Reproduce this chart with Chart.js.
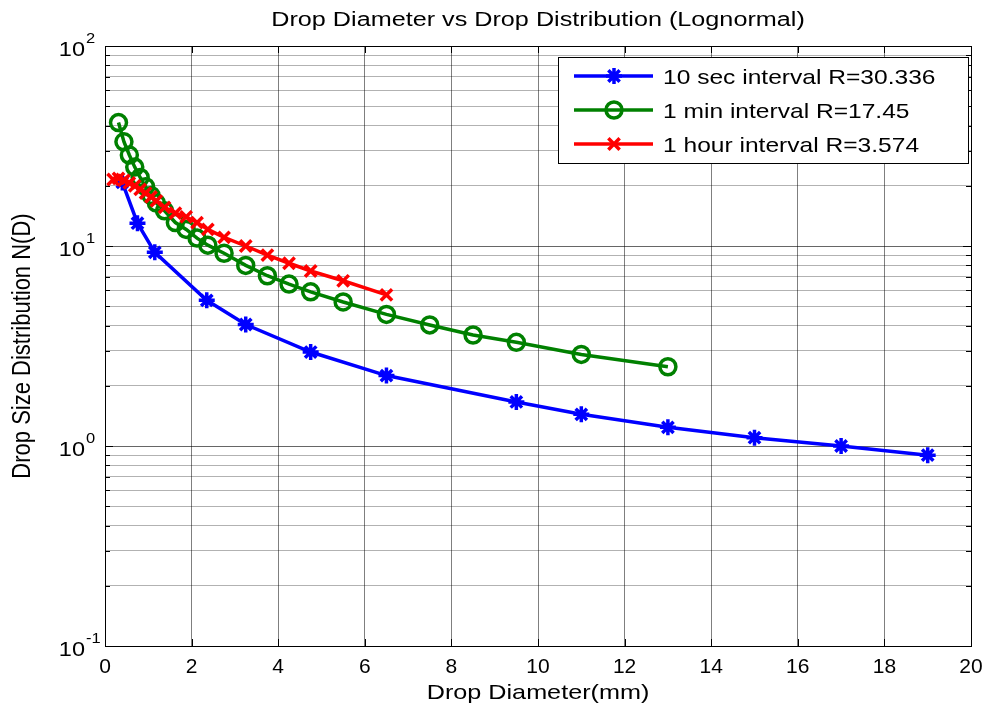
<!DOCTYPE html>
<html>
<head>
<meta charset="utf-8">
<title>Drop Diameter vs Drop Distribution</title>
<script src="https://cdn.jsdelivr.net/npm/chart.js@4.4.1/dist/chart.umd.min.js"></script>
<style>
  html, body { margin: 0; padding: 0; background: #ffffff; }
  #wrap { width: 994px; height: 711px; position: relative; }
</style>
</head>
<body>
<div id="wrap"><canvas id="dsd" width="994" height="711"></canvas></div>
<script>
// Drop diameter (mm) and lognormal drop size distribution N(D) per averaging interval
const sec10Diameter = [0.4, 0.75, 1.15, 2.35, 3.25, 4.75, 6.5, 9.5, 11, 13, 15, 17, 19];
const sec10N        = [20.8, 13.0, 9.3, 5.35, 4.05, 2.95, 2.25, 1.66, 1.44, 1.24, 1.1, 1.0, 0.9];

const min1Diameter = [0.312, 0.437, 0.562, 0.687, 0.812, 0.937, 1.062, 1.187, 1.375, 1.625, 1.875, 2.125, 2.375,
                      2.75, 3.25, 3.75, 4.25, 4.75, 5.5, 6.5, 7.5, 8.5, 9.5, 11, 13];
const min1N        = [41.4, 33.2, 28.5, 24.8, 22.0, 19.8, 17.9, 16.4, 15.0, 13.1, 12.1, 10.95, 10.1,
                      9.2, 8.0, 7.1, 6.45, 5.9, 5.25, 4.55, 4.03, 3.59, 3.30, 2.87, 2.49];

const hour1Diameter = [0.187, 0.312, 0.437, 0.562, 0.687, 0.812, 0.937, 1.062, 1.187, 1.375, 1.625, 1.875,
                       2.125, 2.375, 2.75, 3.25, 3.75, 4.25, 4.75, 5.5, 6.5];
const hour1N        = [21.5, 21.8, 21.3, 20.7, 20.0, 19.2, 18.4, 17.6, 16.8, 15.6, 14.6, 14.0,
                       13.1, 12.1, 11.05, 10.0, 9.0, 8.2, 7.5, 6.7, 5.7];

const seriesLabels = ['10 sec interval R=30.336', '1 min interval R=17.45', '1 hour interval R=3.574'];

// axis ticks
const xTickValues = [0, 2, 4, 6, 8, 10, 12, 14, 16, 18, 20];
const yDecades    = [0.1, 1, 10, 100];
const yExponents  = ['-1', '0', '1', '2'];

const chartTitle = 'Drop Diameter vs Drop Distribution (Lognormal)';
const xTitle = 'Drop Diameter(mm)';
const yTitle = 'Drop Size Distribution N(D)';

const FONT = '"Liberation Sans", Arial, Helvetica, sans-serif';
const STRETCH = 1.2;

function toPoints(xs, ys) { return xs.map((x, i) => ({ x: x, y: ys[i] })); }

// every log-scale grid value between the decades (1..9 x 10^k)
function logGridValues() {
  const out = [];
  for (let d = 0; d < yDecades.length - 1; d++) {
    for (let k = 1; k < 10; k++) out.push(+(yDecades[d] * k).toPrecision(3));
  }
  out.push(yDecades[yDecades.length - 1]);
  return out;
}
function isDecade(v) {
  const l = Math.log10(v);
  return Math.abs(l - Math.round(l)) < 1e-9;
}

function stretchedText(ctx, text, x, y, align, sx) {
  ctx.save();
  ctx.translate(x, y);
  ctx.scale(sx, 1);
  ctx.textAlign = align;
  ctx.fillText(text, 0, 0);
  ctx.restore();
}

// box, inward ticks, tick labels, titles and legend in MATLAB style
const axesDecor = {
  id: 'axesDecor',
  afterDatasetsDraw(chart) {
    const ctx = chart.ctx;
    const a = chart.chartArea;
    const xs = chart.scales.x, ys = chart.scales.y;
    ctx.save();

    // frame
    ctx.strokeStyle = '#000';
    ctx.lineWidth = 1;
    ctx.strokeRect(Math.round(a.left) + 0.5, Math.round(a.top) + 0.5,
                   Math.round(a.right - a.left), Math.round(a.bottom - a.top));

    // x ticks (bottom and top, pointing inward)
    ctx.beginPath();
    xs.ticks.forEach(t => {
      const px = Math.round(xs.getPixelForValue(t.value)) + 0.5;
      ctx.moveTo(px, a.bottom); ctx.lineTo(px, a.bottom - 7);
      ctx.moveTo(px, a.top);    ctx.lineTo(px, a.top + 7);
    });
    // y ticks (left and right)
    ys.ticks.forEach(t => {
      const py = Math.round(ys.getPixelForValue(t.value)) + 0.5;
      const len = isDecade(t.value) ? 8 : 5;
      ctx.moveTo(a.left, py);  ctx.lineTo(a.left + len, py);
      ctx.moveTo(a.right, py); ctx.lineTo(a.right - len, py);
    });
    ctx.stroke();

    ctx.fillStyle = '#000';
    ctx.textBaseline = 'alphabetic';

    // x tick labels
    ctx.font = '21px ' + FONT;
    xs.ticks.forEach(t => {
      const px = xs.getPixelForValue(t.value);
      stretchedText(ctx, String(t.value), px, a.bottom + 27, 'center', 1.0);
    });

    // y tick labels as powers of ten
    yDecades.forEach((v, i) => {
      const py = ys.getPixelForValue(v);
      ctx.font = '21px ' + FONT;
      stretchedText(ctx, '10', a.left - 20, py + 10, 'right', 1.12);
      ctx.font = '15px ' + FONT;
      stretchedText(ctx, yExponents[i], a.left - 19, py - 3, 'left', 1.1);
    });

    // axis titles
    ctx.font = '21px ' + FONT;
    stretchedText(ctx, xTitle, (a.left + a.right) / 2, a.bottom + 53, 'center', STRETCH);
    ctx.save();
    ctx.translate(30, (a.top + a.bottom) / 2);
    ctx.rotate(-Math.PI / 2);
    ctx.scale(1, STRETCH);
    ctx.font = '22px ' + FONT;
    ctx.textAlign = 'center';
    ctx.fillText(yTitle, 0, 0);
    ctx.restore();

    // chart title
    ctx.font = '20px ' + FONT;
    stretchedText(ctx, chartTitle, (a.left + a.right) / 2, 26, 'center', STRETCH * 1.05);

    // legend
    const box = { x: 558.5, y: 57.5, w: 410, h: 106 };
    ctx.fillStyle = '#fff';
    ctx.fillRect(box.x, box.y, box.w, box.h);
    ctx.strokeStyle = '#000';
    ctx.lineWidth = 1;
    ctx.strokeRect(box.x, box.y, box.w, box.h);
    const rows = [76, 110, 144];
    chart.data.datasets.forEach((ds, i) => {
      const y = rows[i];
      ctx.strokeStyle = ds.borderColor;
      ctx.lineWidth = ds.borderWidth;
      ctx.beginPath();
      ctx.moveTo(574, y); ctx.lineTo(653, y);
      ctx.stroke();
      ctx.strokeStyle = ds.pointBorderColor;
      ctx.fillStyle = ds.pointBackgroundColor;
      ctx.lineWidth = ds.pointBorderWidth;
      Chart.helpers.drawPoint(ctx, {
        pointStyle: ds.pointStyle,
        radius: ds.pointRadius,
        borderWidth: ds.pointBorderWidth,
        rotation: 0
      }, 614, y);
      ctx.fillStyle = '#000';
      ctx.font = '21px ' + FONT;
      stretchedText(ctx, ds.label, 663, y + 8, 'left', 1.17);
    });

    ctx.restore();
  }
};

const datasets = [
  {
    label: seriesLabels[0],
    data: toPoints(sec10Diameter, sec10N),
    borderColor: '#0000ff',
    backgroundColor: '#0000ff',
    borderWidth: 3.5,
    pointStyle: 'star',
    pointRadius: 8,
    pointBorderWidth: 3.5,
    pointBackgroundColor: '#0000ff',
    pointBorderColor: '#0000ff',
    order: 2
  },
  {
    label: seriesLabels[1],
    data: toPoints(min1Diameter, min1N),
    borderColor: '#008000',
    backgroundColor: 'rgba(0,0,0,0)',
    borderWidth: 3.5,
    pointStyle: 'circle',
    pointRadius: 8,
    pointBorderWidth: 3.5,
    pointBackgroundColor: 'rgba(0,0,0,0)',
    pointBorderColor: '#008000',
    order: 1
  },
  {
    label: seriesLabels[2],
    data: toPoints(hour1Diameter, hour1N),
    borderColor: '#ff0000',
    backgroundColor: '#ff0000',
    borderWidth: 3.5,
    pointStyle: 'crossRot',
    pointRadius: 8,
    pointBorderWidth: 3.5,
    pointBackgroundColor: '#ff0000',
    pointBorderColor: '#ff0000',
    order: 0
  }
];

new Chart(document.getElementById('dsd').getContext('2d'), {
  type: 'line',
  data: { datasets: datasets },
  options: {
    responsive: false,
    animation: false,
    devicePixelRatio: 1,
    layout: { padding: { left: 105, right: 23, top: 46, bottom: 65 } },
    plugins: {
      legend: { display: false },
      title: { display: false },
      tooltip: { enabled: false }
    },
    elements: { line: { tension: 0 } },
    scales: {
      x: {
        type: 'linear',
        min: 0,
        max: 20,
        afterBuildTicks(scale) { scale.ticks = xTickValues.map(v => ({ value: v })); },
        afterFit(scale) { scale.height = 0; },
        ticks: { display: false },
        border: { display: false },
        grid: { color: 'rgba(0,0,0,0.5)', lineWidth: 1, drawTicks: false }
      },
      y: {
        type: 'logarithmic',
        min: 0.1,
        max: 100,
        afterBuildTicks(scale) { scale.ticks = logGridValues().map(v => ({ value: v })); },
        afterFit(scale) { scale.width = 0; },
        ticks: { display: false },
        border: { display: false },
        grid: {
          drawTicks: false,
          color: c => (c.tick && isDecade(c.tick.value)) ? 'rgba(0,0,0,0.6)' : 'rgba(0,0,0,0.3)',
          lineWidth: 1
        }
      }
    }
  },
  plugins: [axesDecor]
});
</script>
</body>
</html>
